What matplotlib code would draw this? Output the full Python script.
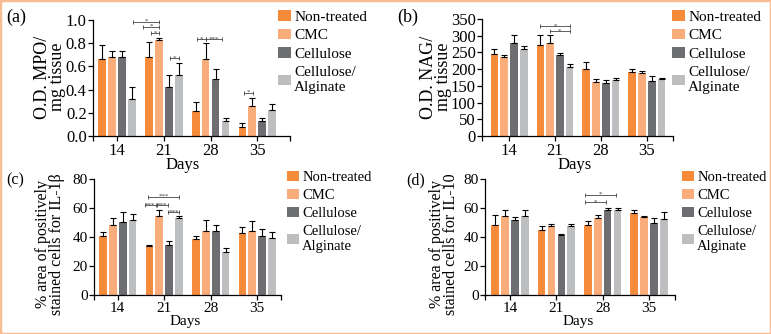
import numpy as np
import matplotlib
matplotlib.use("Agg")
import matplotlib.pyplot as plt
from matplotlib.patches import Rectangle

plt.rcParams["font.family"] = ["Liberation Serif", "DejaVu Serif"]

# ---- data ----
days = ["14", "21", "28", "35"]
groups = ["Non-treated", "CMC", "Cellulose", "Cellulose/\nAlginate"]
colors = ["#F68B3C", "#F9AD7B", "#6D6E71", "#BCBEC0"]

mpo_mean = [[0.666, 0.68, 0.214, 0.077],
            [0.68, 0.83, 0.666, 0.257],
            [0.68, 0.42, 0.49, 0.13],
            [0.323, 0.523, 0.13, 0.223]]
mpo_err = [[0.12, 0.134, 0.08, 0.032],
           [0.05, 0.013, 0.134, 0.073],
           [0.05, 0.11, 0.087, 0.021],
           [0.097, 0.107, 0.024, 0.051]]

nag_mean = [[245, 272, 199, 190],
            [237, 277, 162, 189],
            [277, 242, 159, 164],
            [259, 207, 167, 170]]
nag_err = [[14, 30, 21, 10],
           [5, 25, 8, 6],
           [25, 7, 8, 15],
           [10, 7, 7, 5]]

il1_mean = [[40.5, 33.6, 38.6, 43.0],
            [48.0, 54.6, 44.1, 44.1],
            [50.5, 34.7, 44.1, 40.7],
            [51.7, 53.0, 29.5, 39.3]]
il1_err = [[2.7, 0.9, 2.1, 3.9],
           [5.0, 4.1, 7.9, 7.1],
           [6.5, 2.6, 4.4, 5.0],
           [4.3, 1.2, 3.2, 3.9]]

il10_mean = [[48.0, 45.0, 48.5, 56.5],
             [54.4, 47.5, 52.8, 53.7],
             [51.4, 41.6, 58.3, 49.8],
             [54.4, 47.5, 58.3, 52.3]]
il10_err = [[7.3, 2.3, 2.2, 2.2],
            [3.9, 1.4, 2.3, 0.7],
            [2.1, 0.7, 1.8, 3.5],
            [4.1, 1.6, 2.0, 4.8]]

# significance brackets: (x start, x end, y, label)
mpo_sig = [(0.337, 0.894, 0.986, "*"), (0.551, 0.894, 0.943, "*"),
           (0.722, 0.894, 0.889, "*"), (1.13, 1.322, 0.674, "*"),
           (1.70, 1.89, 0.837, "*"), (1.89, 2.24, 0.837, "***"),
           (2.72, 2.91, 0.374, "*")]
nag_sig = [(0.68, 1.32, 330, "*"), (0.893, 1.32, 314, "*")]
il1_sig = [(0.651, 1.318, 67.9, "***"), (0.587, 0.817, 62.2, "***"),
           (0.845, 1.075, 62.2, "***"), (1.08, 1.318, 57.1, "***")]
il10_sig = [(1.626, 2.296, 69.3, "*"), (1.626, 2.08, 64.0, "*")]

W, H = 771, 334
fig = plt.figure(figsize=(W / 100, H / 100), dpi=100)


def px_axes(L, R, T, B):
    return fig.add_axes([L / W, 1 - B / H, (R - L) / W, (B - T) / H])


def panel(box, xlim, ylim, yticks, yfmt, means, errs, sigs, letter, letter_xy,
          ylabel, ylabel_xy, days_xy, leg_xy, fs_tick, fs_lab, fs_leg):
    ax = px_axes(*box)
    x = np.arange(len(days))
    offsets = [-0.32, -0.107, 0.107, 0.32]
    for k in range(4):
        ax.bar(x + offsets[k], means[k], width=0.165, color=colors[k],
               label=groups[k], zorder=2)
        ax.errorbar(x + offsets[k], means[k],
                    yerr=[np.zeros(4), errs[k]], fmt="none", ecolor="black",
                    elinewidth=0.8, capsize=2.0, capthick=0.8, zorder=3)
    for x1, x2, y, lab in sigs:
        ax.plot([x1, x2], [y, y], color="#444444", lw=0.6, zorder=4,
                clip_on=False)
        ax.plot([x1, x2], [y, y], "|", color="#444444", ms=3, mew=0.6,
                zorder=4, clip_on=False)
        ax.text((x1 + x2) / 2, y, lab, ha="center", va="center", fontsize=5,
                color="#444444", clip_on=False)
    ax.set_xlim(*xlim)
    ax.set_ylim(*ylim)
    ax.set_xticks(x)
    ax.set_xticklabels(days)
    ax.set_xticks(list(xlim), minor=True)
    ax.set_yticks(yticks)
    ax.set_yticklabels([yfmt.format(v) for v in yticks])
    for s in ["top", "right"]:
        ax.spines[s].set_visible(False)
    for s in ["left", "bottom"]:
        ax.spines[s].set_linewidth(0.9)
    ax.tick_params(which="both", direction="out", length=3.5, width=0.9,
                   labelsize=fs_tick, pad=1)
    ax.tick_params(axis="x", pad=1.5)

    fig.text(letter_xy[0] / W, 1 - letter_xy[1] / H, letter, fontsize=fs_lab,
             ha="left", va="center")
    fig.text(ylabel_xy[0] / W, 1 - ylabel_xy[1] / H, ylabel, fontsize=fs_lab,
             rotation=90, ha="center", va="center", multialignment="center",
             linespacing=0.85)
    fig.text(days_xy[0] / W, 1 - days_xy[1] / H, "Days", fontsize=fs_tick,
             ha="center", va="center")
    fig.legend(*ax.get_legend_handles_labels(), loc="upper left",
               bbox_to_anchor=(leg_xy[0] / W, 1 - leg_xy[1] / H),
               frameon=False, fontsize=fs_leg, handlelength=0.85,
               handleheight=0.7, handletextpad=0.2, labelspacing=0.33,
               borderpad=0, borderaxespad=0)
    return ax


panel((93, 290, 20, 136), (-0.52, 3.70), (0, 1.0),
      [0.0, 0.2, 0.4, 0.6, 0.8, 1.0], "{:.1f}", mpo_mean, mpo_err, mpo_sig,
      "(a)", (6, 17), "O.D. MPO/\nmg tissue", (50, 77), (183, 165), (278, 10),
      12, 13, 11)

panel((482, 673, 19, 136), (-0.59, 3.57), (0, 350),
      [0, 50, 100, 150, 200, 250, 300, 350], "{:d}", nag_mean, nag_err, nag_sig,
      "(b)", (397, 17), "O.D. NAG/\nmg tissue", (436, 77), (575, 165),
      (672, 10), 12, 13, 11)

panel((94, 281, 179, 295), (-0.51, 3.51), (0, 80),
      [0, 20, 40, 60, 80], "{:d}", il1_mean, il1_err, il1_sig,
      "(c)", (6, 180), "% area of positively\nstained cells for IL-1\u03b2",
      (50, 244), (185, 322), (287, 171), 11, 11.5, 10.5)

panel((485, 675, 179, 295), (-0.54, 3.56), (0, 80),
      [0, 20, 40, 60, 80], "{:d}", il10_mean, il10_err, il10_sig,
      "(d)", (406, 180), "% area of positively\nstained cells for IL-10",
      (444, 244), (578, 321), (682, 171), 11, 11.5, 10.5)

# orange frame round the whole figure
fig.patches.append(Rectangle((0, 0), 1, 1, transform=fig.transFigure,
                             fill=False, edgecolor="#F9BD93", linewidth=2.5))

fig.savefig("out.png", dpi=100)
